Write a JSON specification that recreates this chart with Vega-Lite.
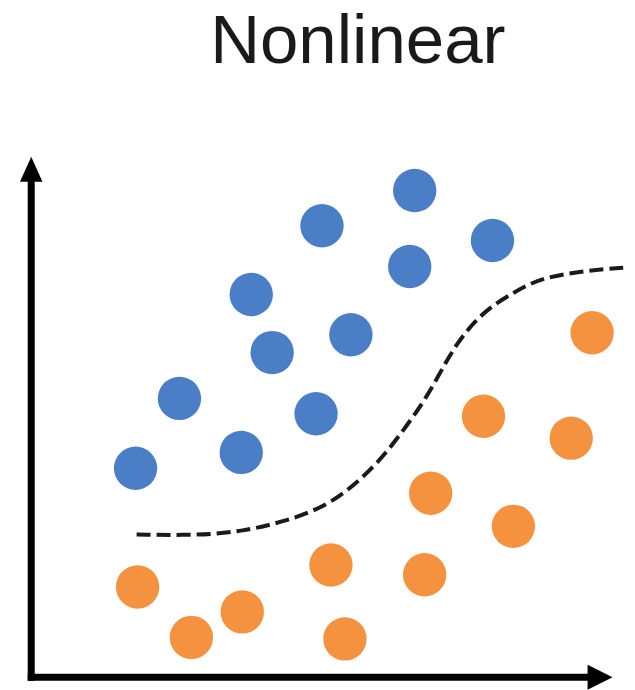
{
  "$schema": "https://vega.github.io/schema/vega-lite/v6.json",
  "autosize": {"type": "fit", "contains": "padding"},
  "width": 635,
  "height": 690,
  "padding": 0,
  "background": "white",
  "config": {"view": {"stroke": null}},
  "datasets": {
    "pts": [
      {"x": 1.805, "y": 4.10, "cls": "blue"},
      {"x": 2.564, "y": 5.47, "cls": "blue"},
      {"x": 3.633, "y": 4.41, "cls": "blue"},
      {"x": 3.806, "y": 7.51, "cls": "blue"},
      {"x": 4.168, "y": 6.37, "cls": "blue"},
      {"x": 4.927, "y": 5.17, "cls": "blue"},
      {"x": 5.030, "y": 8.86, "cls": "blue"},
      {"x": 5.530, "y": 6.72, "cls": "blue"},
      {"x": 6.548, "y": 8.06, "cls": "blue"},
      {"x": 6.634, "y": 9.55, "cls": "blue"},
      {"x": 7.979, "y": 8.57, "cls": "blue"},
      {"x": 1.840, "y": 1.77, "cls": "orange"},
      {"x": 2.771, "y": 0.78, "cls": "orange"},
      {"x": 3.651, "y": 1.28, "cls": "orange"},
      {"x": 5.185, "y": 2.20, "cls": "orange"},
      {"x": 5.427, "y": 0.75, "cls": "orange"},
      {"x": 6.806, "y": 2.01, "cls": "orange"},
      {"x": 6.910, "y": 3.61, "cls": "orange"},
      {"x": 7.824, "y": 5.12, "cls": "orange"},
      {"x": 8.341, "y": 2.96, "cls": "orange"},
      {"x": 9.341, "y": 4.69, "cls": "orange"},
      {"x": 9.703, "y": 6.76, "cls": "orange"}
    ],
    "curve": [
      {"x": 1.823, "y": 2.80},
      {"x": 2.909, "y": 2.78},
      {"x": 3.651, "y": 2.86},
      {"x": 4.409, "y": 3.06},
      {"x": 5.203, "y": 3.39},
      {"x": 5.961, "y": 4.14},
      {"x": 6.409, "y": 4.80},
      {"x": 6.823, "y": 5.45},
      {"x": 7.169, "y": 6.18},
      {"x": 7.445, "y": 6.69},
      {"x": 7.858, "y": 7.21},
      {"x": 8.376, "y": 7.57},
      {"x": 8.824, "y": 7.84},
      {"x": 9.6, "y": 7.98},
      {"x": 10.29, "y": 8.04}
    ],
    "axes": [
      {"x": 0, "y": 0, "x2": 0, "y2": 9.8},
      {"x": 0, "y": 0, "x2": 9.75, "y2": 0}
    ],
    "heads": [
      {"x": 0, "y": 9.97, "dir": "up"},
      {"x": 9.84, "y": 0, "dir": "right"}
    ],
    "label": [
      {"x": 5.65, "y": 12.06, "text": "Nonlinear"}
    ]
  },
  "layer": [
    {
      "data": {"name": "axes"},
      "mark": {"type": "rule", "color": "black", "strokeWidth": 7, "strokeCap": "square"},
      "encoding": {
        "x": {"field": "x", "type": "quantitative", "scale": {"domain": [-0.54, 10.41], "nice": false, "zero": false}, "axis": null},
        "y": {"field": "y", "type": "quantitative", "scale": {"domain": [-0.233, 13.29], "nice": false, "zero": false}, "axis": null},
        "x2": {"field": "x2"},
        "y2": {"field": "y2"}
      }
    },
    {
      "data": {"name": "heads"},
      "mark": {"type": "point", "filled": true, "color": "black", "opacity": 1},
      "encoding": {
        "x": {"field": "x", "type": "quantitative"},
        "y": {"field": "y", "type": "quantitative"},
        "shape": {"field": "dir", "type": "nominal", "scale": {"domain": ["up", "right"], "range": ["M0,-1L-0.9,1L0.9,1Z", "M1,0L-1,-1L-1,1Z"]}, "legend": null},
        "size": {"value": 625}
      }
    },
    {
      "data": {"name": "curve"},
      "mark": {"type": "line", "color": "#1a1a1a", "strokeWidth": 4, "strokeDash": [14, 6], "interpolate": "basis"},
      "encoding": {
        "x": {"field": "x", "type": "quantitative"},
        "y": {"field": "y", "type": "quantitative"}
      }
    },
    {
      "data": {"name": "pts"},
      "mark": {"type": "circle", "opacity": 1},
      "encoding": {
        "x": {"field": "x", "type": "quantitative"},
        "y": {"field": "y", "type": "quantitative"},
        "color": {"field": "cls", "type": "nominal", "scale": {"domain": ["blue", "orange"], "range": ["#4a7ec6", "#f5923f"]}, "legend": null},
        "size": {"value": 1880}
      }
    },
    {
      "data": {"name": "label"},
      "mark": {"type": "text", "font": "Liberation Sans", "fontSize": 69, "color": "#1a1a1a", "align": "center", "baseline": "alphabetic"},
      "encoding": {
        "x": {"field": "x", "type": "quantitative"},
        "y": {"field": "y", "type": "quantitative"},
        "text": {"field": "text"}
      }
    }
  ]
}
